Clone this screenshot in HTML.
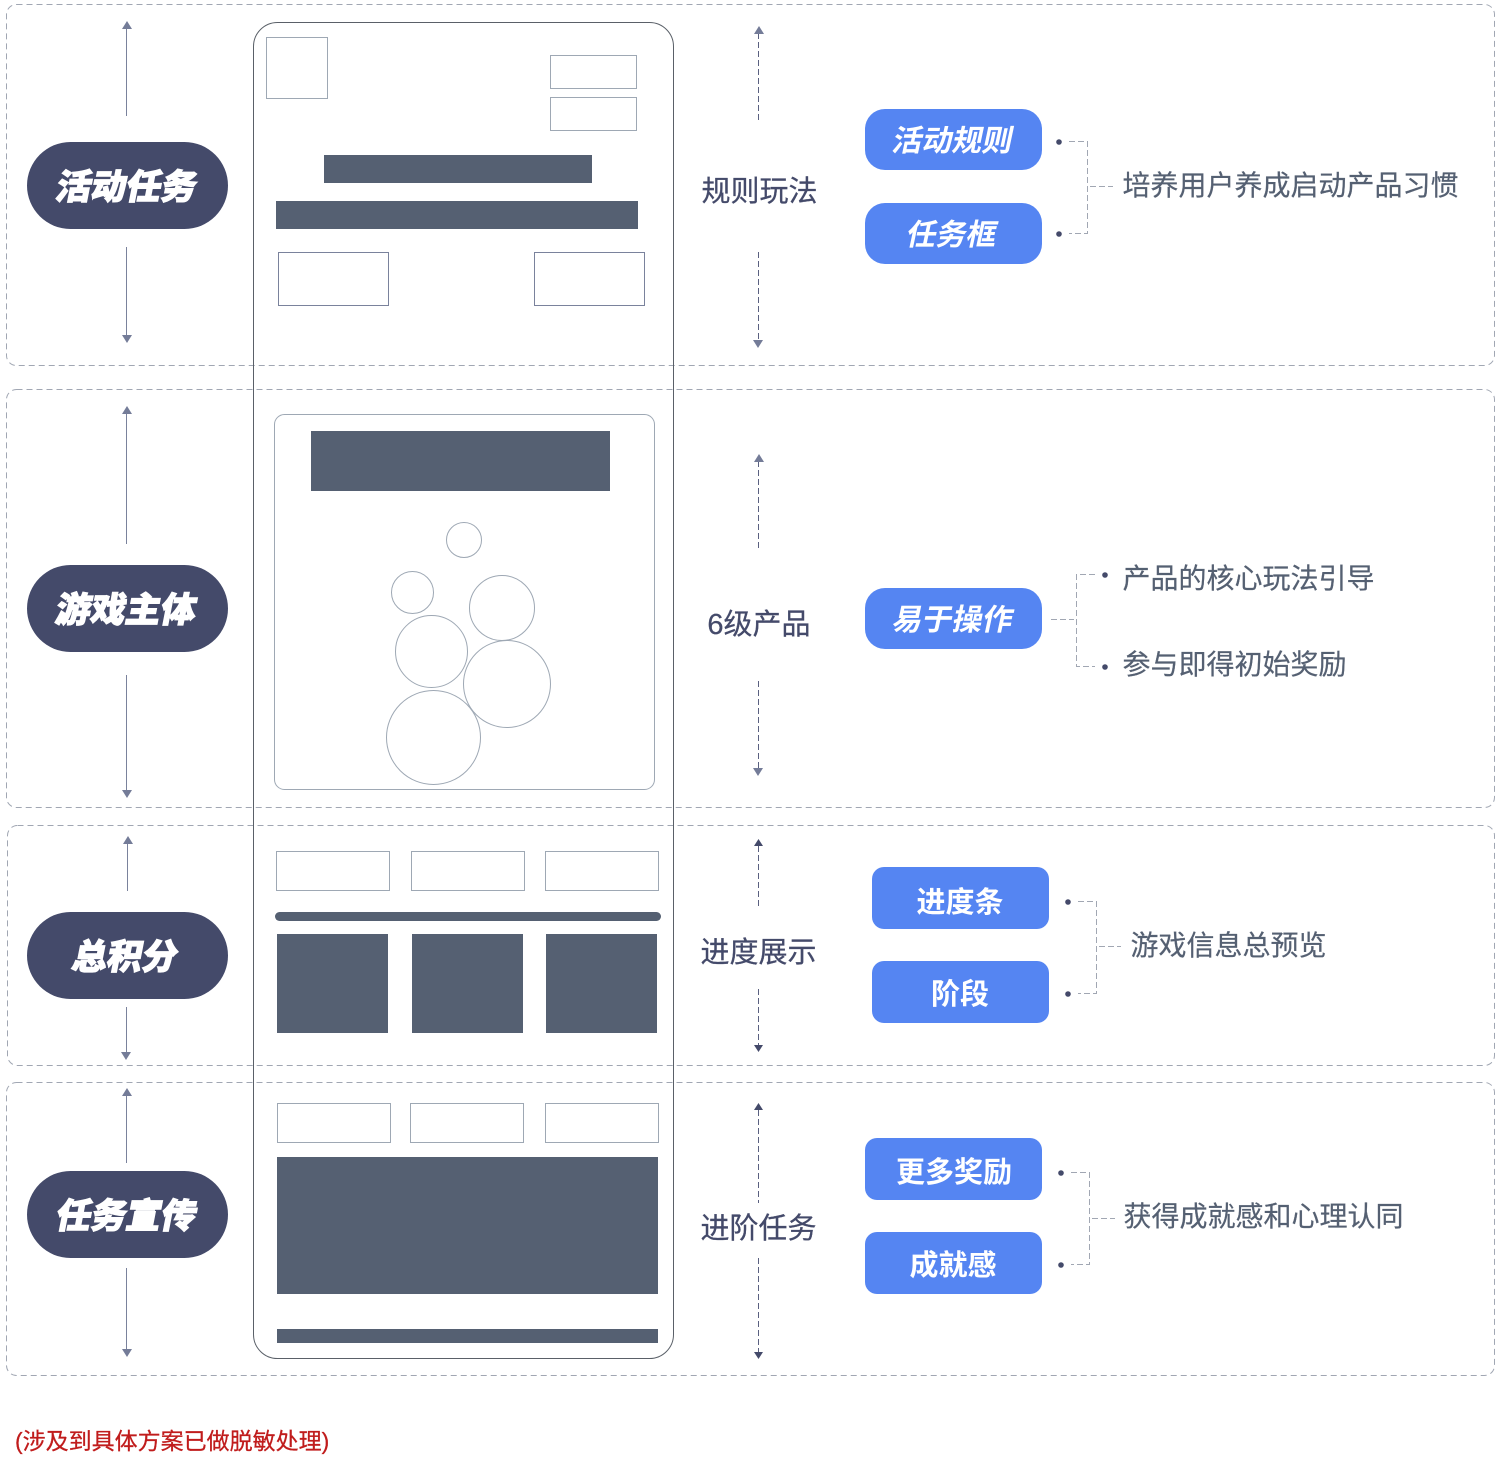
<!DOCTYPE html>
<html lang="zh"><head><meta charset="utf-8"><style>
html,body{margin:0;padding:0;background:#fff}
svg{display:block}
text{font-family:"Liberation Sans","Noto Sans CJK SC",sans-serif}
.sec{fill:none;stroke:#a1a7b3;stroke-width:1;stroke-dasharray:6 4}
.o{fill:#fff;stroke:#9ea8b4;stroke-width:1}
.d{fill:#556072}
.p{fill:#444a6a}
.b{fill:#5585f2}
.t{fill:#fff;font-weight:900;font-size:35px;text-anchor:middle;stroke:#fff;stroke-width:1.2}
.w{fill:#fff;font-weight:700;font-size:30px;text-anchor:middle}
.u{fill:#fff;font-weight:700;font-size:29px;text-anchor:middle}
.m{fill:#444a6a;font-size:29px;text-anchor:middle;stroke:#444a6a;stroke-width:.25}
.g{fill:#556072;font-size:28px;stroke:#556072;stroke-width:.2}
.l{stroke:#7a829c;stroke-width:1;fill:none}
.ld{stroke:#5a6080;stroke-width:1;fill:none;stroke-dasharray:6 3}
.c{stroke:#a1a7b3;stroke-width:1;fill:none;stroke-dasharray:6 3}
.h{fill:#747c98}
.dot{fill:#444a6a}
</style></head><body>
<svg width="1502" height="1466" viewBox="0 0 1502 1466" xmlns="http://www.w3.org/2000/svg">
<rect class="sec" x="6.5" y="4.5" width="1488" height="361" rx="10"/>
<rect class="sec" x="6.5" y="389.5" width="1488" height="418" rx="10"/>
<rect class="sec" x="7.5" y="825.5" width="1487" height="240" rx="10"/>
<rect class="sec" x="6.5" y="1082.5" width="1488" height="293" rx="10"/>

<rect x="253.5" y="22.5" width="420" height="1336" rx="24" fill="none" stroke="#5a6068" stroke-width="1"/>

<rect class="o" x="266.5" y="37.5" width="61" height="61"/>
<rect class="o" x="550.5" y="55.5" width="86" height="33"/>
<rect class="o" x="550.5" y="97.5" width="86" height="33"/>
<rect class="d" x="324" y="155" width="268" height="28"/>
<rect class="d" x="276" y="201" width="362" height="28"/>
<rect class="o" x="278.5" y="252.5" width="110" height="53" style="stroke:#7a829c"/>
<rect class="o" x="534.5" y="252.5" width="110" height="53" style="stroke:#7a829c"/>

<rect class="o" x="274.5" y="414.5" width="380" height="375" rx="10"/>
<rect class="d" x="311" y="431" width="299" height="60"/>
<circle class="o" cx="464" cy="540" r="17.5"/>
<circle class="o" cx="412.5" cy="592.5" r="21"/>
<circle class="o" cx="502" cy="608" r="32.5"/>
<circle class="o" cx="431.5" cy="651.5" r="36"/>
<circle class="o" cx="507" cy="684" r="43.5"/>
<circle class="o" cx="433.5" cy="737.5" r="47"/>

<rect class="o" x="276.5" y="851.5" width="113" height="39"/>
<rect class="o" x="411.5" y="851.5" width="113" height="39"/>
<rect class="o" x="545.5" y="851.5" width="113" height="39"/>
<rect class="d" x="275" y="912" width="386" height="9" rx="4.5"/>
<rect class="d" x="277" y="934" width="111" height="99"/>
<rect class="d" x="412" y="934" width="111" height="99"/>
<rect class="d" x="546" y="934" width="111" height="99"/>

<rect class="o" x="277.5" y="1103.5" width="113" height="39"/>
<rect class="o" x="410.5" y="1103.5" width="113" height="39"/>
<rect class="o" x="545.5" y="1103.5" width="113" height="39"/>
<rect class="d" x="277" y="1157" width="381" height="137"/>
<rect class="d" x="277" y="1329" width="381" height="14"/>

<rect class="p" x="27" y="142" width="201" height="87" rx="43.5"/>
<rect class="p" x="27" y="565" width="201" height="87" rx="43.5"/>
<rect class="p" x="27" y="912" width="201" height="87" rx="43.5"/>
<rect class="p" x="27" y="1171" width="201" height="87" rx="43.5"/>
<text class="t" transform="translate(124.500,199) skewX(-11)">活动任务</text>
<text class="t" transform="translate(124,622) skewX(-11)">游戏主体</text>
<text class="t" transform="translate(123,969) skewX(-11)">总积分</text>
<text class="t" transform="translate(124.500,1228) skewX(-11)">任务宣传</text>

<path class="l" d="M126.500 28V116M126.500 247V336M126.500 413V544M126.500 675V791M127.500 843V891M126.500 1007V1053M126.500 1095V1163M126.500 1268V1350"/>
<path class="h" d="M127 21l5 8h-10zM127 343l-5-8h10zM127 406l5 8h-10zM127 798l-5-8h10zM128 836l5 8h-10zM126 1060l-5-8h10zM127 1088l5 8h-10zM127 1357l-5-8h10z"/>

<path class="ld" d="M758.500 33V122M758.500 252V341M758.500 461V550M758.500 681V769M758.500 846V908M758.500 989V1045M758.500 1110V1203M758.500 1258V1352"/>
<path class="h" d="M759 26l5 8h-10zM758 348l-5-8h10zM759 454l5 8h-10zM758 776l-5-8h10z"/>
<path class="p" d="M758.500 839l4.500 7h-9zM758.500 1052l-4.500-7h9zM758.500 1103l4.500 7h-9zM758.500 1359l-4.500-7h9z"/>

<text class="m" x="759.500" y="201">规则玩法</text>
<text class="m" x="759" y="634">6级产品</text>
<text class="m" x="758.500" y="962">进度展示</text>
<text class="m" x="758.500" y="1238">进阶任务</text>

<rect class="b" x="865" y="109" width="177" height="61" rx="20"/>
<rect class="b" x="865" y="203" width="177" height="61" rx="20"/>
<rect class="b" x="865" y="588" width="177" height="61" rx="20"/>
<rect class="b" x="872" y="867" width="177" height="62" rx="12"/>
<rect class="b" x="872" y="961" width="177" height="62" rx="12"/>
<rect class="b" x="865" y="1138" width="177" height="62" rx="12"/>
<rect class="b" x="865" y="1232" width="177" height="62" rx="12"/>
<text class="w" transform="translate(951,151) skewX(-12)">活动规则</text>
<text class="w" transform="translate(950,245) skewX(-12)">任务框</text>
<text class="w" transform="translate(951,630) skewX(-12)">易于操作</text>
<text class="u" x="960" y="912">进度条</text>
<text class="u" x="960" y="1004">阶段</text>
<text class="u" x="954" y="1182">更多奖励</text>
<text class="u" x="953" y="1275">成就感</text>

<path class="c" d="M1069 141.500H1087.500V233.500H1069M1090 186.500H1113"/>
<path class="c" d="M1095 574.500H1076.500V666.500H1095M1051 619.500H1074"/>
<path class="c" d="M1078 901.500H1096.500V993.500H1078M1099 946.500H1121"/>
<path class="c" d="M1071 1172.500H1089.500V1264.500H1071M1092 1218.500H1115"/>
<circle class="dot" cx="1059" cy="142" r="2.800"/><circle class="dot" cx="1059" cy="234" r="2.800"/>
<circle class="dot" cx="1105" cy="575" r="2.800"/><circle class="dot" cx="1105" cy="667" r="2.800"/>
<circle class="dot" cx="1068" cy="902" r="2.800"/><circle class="dot" cx="1068" cy="994" r="2.800"/>
<circle class="dot" cx="1061" cy="1173" r="2.800"/><circle class="dot" cx="1061" cy="1265" r="2.800"/>

<text class="g" x="1122.500" y="195">培养用户养成启动产品习惯</text>
<text class="g" x="1122.500" y="588">产品的核心玩法引导</text>
<text class="g" x="1122.500" y="674">参与即得初始奖励</text>
<text class="g" x="1130.500" y="955">游戏信息总预览</text>
<text class="g" x="1123.500" y="1226">获得成就感和心理认同</text>

<text x="15" y="1449" font-size="23" fill="#c01c1c" stroke="#c01c1c" stroke-width=".25">(涉及到具体方案已做脱敏处理)</text>
</svg>
</body></html>
